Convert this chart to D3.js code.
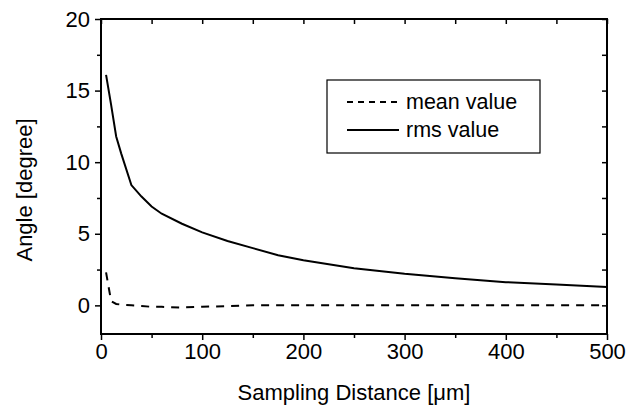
<!DOCTYPE html>
<html>
<head>
<meta charset="utf-8">
<script src="https://cdn.jsdelivr.net/npm/d3@7"></script>
<style>
  body { margin: 0; background: #fff; }
  svg text { font-family: "Liberation Sans", Arial, sans-serif; fill: #000; }
  .axis path, .axis line { stroke: #000; }
</style>
</head>
<body>
<svg id="chart" width="627" height="409"></svg>
<script>
// --- data ---
const distance = [5, 10, 15, 20, 30, 40, 50, 60, 80, 100, 125, 150, 175, 200, 250, 300, 350, 400, 450, 500];
const rmsValue = [16.1, 14.0, 11.8, 10.6, 8.4, 7.6, 6.9, 6.4, 5.7, 5.1, 4.5, 4.0, 3.5, 3.15, 2.6, 2.2, 1.9, 1.62, 1.45, 1.28];
const meanValue = [2.3, 0.3, 0.1, 0.05, 0, -0.05, -0.1, -0.1, -0.15, -0.1, -0.05, 0, 0, 0, 0, 0, 0, 0, 0, 0];
const xTicks = [0, 100, 200, 300, 400, 500];
const xMinor = [50, 150, 250, 350, 450];
const yTicks = [0, 5, 10, 15, 20];
const yMinor = [2.5, 7.5, 12.5, 17.5];
const seriesNames = ["mean value", "rms value"];

function drawChart() {
    const margin = { top: 19, right: 20, bottom: 75, left: 101 };
    const width = 627, height = 409;
    const svg = d3.select("#chart");

    const x = d3.scaleLinear().domain([0, 500]).range([margin.left, width - margin.right]);
    const y = d3.scaleLinear().domain([-2, 20]).range([height - margin.bottom, margin.top]);

    // frame
    svg.append("rect")
        .attr("x", x(0)).attr("y", y(20))
        .attr("width", x(500) - x(0)).attr("height", y(-2) - y(20))
        .attr("fill", "none").attr("stroke", "#000").attr("stroke-width", 2);

    // bottom axis (outward)
    const gx = svg.append("g").attr("class", "axis")
        .attr("transform", `translate(0,${y(-2)})`)
        .call(d3.axisBottom(x).tickValues(xTicks).tickSize(6).tickSizeOuter(0).tickPadding(3));
    gx.selectAll("text").style("font-size", "22px");
    svg.append("g").attr("class", "axis")
        .attr("transform", `translate(0,${y(-2)})`)
        .call(d3.axisBottom(x).tickValues(xMinor).tickSize(4).tickSizeOuter(0).tickFormat(""));

    // left axis (outward)
    const gy = svg.append("g").attr("class", "axis")
        .attr("transform", `translate(${x(0)},0)`)
        .call(d3.axisLeft(y).tickValues(yTicks).tickSize(6).tickSizeOuter(0).tickPadding(5));
    gy.selectAll("text").style("font-size", "22px");
    svg.append("g").attr("class", "axis")
        .attr("transform", `translate(${x(0)},0)`)
        .call(d3.axisLeft(y).tickValues(yMinor).tickSize(4).tickSizeOuter(0).tickFormat(""));

    // top and right mirror ticks (inward)
    svg.append("g").attr("class", "axis")
        .attr("transform", `translate(0,${y(20)})`)
        .call(d3.axisBottom(x).tickValues(xTicks.concat(xMinor)).tickSize(5).tickSizeOuter(0).tickFormat(""));
    svg.append("g").attr("class", "axis")
        .attr("transform", `translate(${x(500)},0)`)
        .call(d3.axisLeft(y).tickValues(yTicks.concat(yMinor)).tickSize(5).tickSizeOuter(0).tickFormat(""));

    svg.selectAll(".axis .domain").remove();
    svg.selectAll(".axis line").attr("stroke-width", 1.5);

    // lines
    const valueLine = d3.line().x((d, i) => x(distance[i])).y(d => y(d));
    svg.append("path").datum(rmsValue)
        .attr("d", valueLine).attr("fill", "none")
        .attr("stroke", "#000").attr("stroke-width", 2);
    svg.append("path").datum(meanValue)
        .attr("d", valueLine).attr("fill", "none")
        .attr("stroke", "#000").attr("stroke-width", 2)
        .attr("stroke-dasharray", "8,7");

    // axis titles
    svg.append("text")
        .attr("x", (x(0) + x(500)) / 2).attr("y", 400)
        .attr("text-anchor", "middle").style("font-size", "22px")
        .text("Sampling Distance [\u03bcm]");
    svg.append("text")
        .attr("transform", `translate(32,190) rotate(-90)`)
        .attr("text-anchor", "middle").style("font-size", "22px")
        .text("Angle [degree]");

    // legend
    const lg = svg.append("g");
    lg.append("rect")
        .attr("x", 327).attr("y", 80).attr("width", 213).attr("height", 73)
        .attr("fill", "#fff").attr("stroke", "#000").attr("stroke-width", 1.2);
    const legendY = [102, 130];
    const dashes = ["6,5", null];
    seriesNames.forEach((name, i) => {
        lg.append("line")
            .attr("x1", 347).attr("x2", 399)
            .attr("y1", legendY[i]).attr("y2", legendY[i])
            .attr("stroke", "#000").attr("stroke-width", 2)
            .attr("stroke-dasharray", dashes[i]);
        lg.append("text")
            .attr("x", 406).attr("y", legendY[i] + 7)
            .style("font-size", "21.5px")
            .text(name);
    });
}

drawChart();
</script>
</body>
</html>
